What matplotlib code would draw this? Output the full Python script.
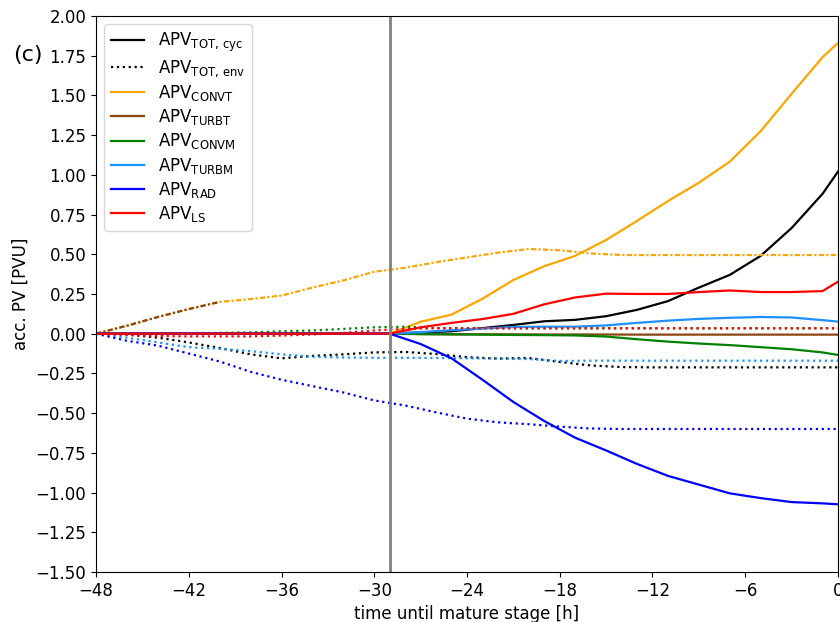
import numpy as np
import matplotlib
matplotlib.use("Agg")
import matplotlib.pyplot as plt

# time axes [h until mature stage]
t_cyc = [-48, -29, -27, -25, -23, -21, -19, -17, -15, -13, -11, -9, -7, -5, -3, -1, 0]
t_env = [-48, -46, -44, -42, -40, -38, -36, -34, -32, -30, -28, -26, -24,
         -22, -20, -18, -16, -14, -12, -10, -8, -6, -4, -2, 0]
t_mature_start = -29

# accumulated PV along cyclone (solid)
tot_cyc = [0, 0, 0.008, 0.015, 0.035, 0.055, 0.078, 0.087, 0.11, 0.15, 0.205, 0.29, 0.37, 0.49, 0.665, 0.88, 1.02]
convt_cyc = [0, 0, 0.075, 0.12, 0.22, 0.338, 0.425, 0.49, 0.59, 0.71, 0.835, 0.95, 1.083, 1.275, 1.51, 1.74, 1.83]
turbt_cyc = [0, 0, -0.002, -0.003, -0.004, -0.004, -0.005, -0.005, -0.005, -0.006, -0.006, -0.006, -0.006, -0.006, -0.006, -0.006, -0.006]
convm_cyc = [0, 0, -0.003, -0.005, -0.006, -0.008, -0.009, -0.011, -0.018, -0.035, -0.05, -0.062, -0.072, -0.085, -0.098, -0.118, -0.134]
turbm_cyc = [0, 0, 0.01, 0.022, 0.032, 0.042, 0.044, 0.044, 0.052, 0.068, 0.082, 0.093, 0.1, 0.105, 0.102, 0.085, 0.076]
rad_cyc = [0, 0, -0.065, -0.155, -0.29, -0.43, -0.55, -0.655, -0.735, -0.82, -0.895, -0.95, -1.005, -1.035, -1.06, -1.068, -1.074]
ls_cyc = [0, 0, 0.04, 0.068, 0.092, 0.125, 0.185, 0.228, 0.252, 0.25, 0.25, 0.262, 0.272, 0.262, 0.262, 0.268, 0.327]

# accumulated PV in environment (dotted)
tot_env = [0, -0.005, -0.025, -0.055, -0.09, -0.13, -0.155, -0.14, -0.13, -0.118, -0.115, -0.128, -0.148,
           -0.157, -0.153, -0.178, -0.2, -0.21, -0.212, -0.212, -0.212, -0.212, -0.212, -0.212, -0.212]
convt_env = [0, 0.05, 0.105, 0.155, 0.2, 0.218, 0.24, 0.29, 0.335, 0.39, 0.415, 0.45, 0.48,
             0.51, 0.533, 0.525, 0.505, 0.495, 0.495, 0.495, 0.495, 0.495, 0.495, 0.495, 0.495]
turbt_env = [0, 0.05, 0.105, 0.155, 0.2] + [np.nan] * 20
convm_env = [0, 0.0, 0.002, 0.003, 0.005, 0.008, 0.015, 0.02, 0.03, 0.04, 0.044, 0.036, 0.034,
             0.034, 0.034, 0.034, 0.034, 0.034, 0.034, 0.034, 0.034, 0.034, 0.034, 0.034, 0.034]
turbm_env = [0, -0.025, -0.055, -0.085, -0.095, -0.11, -0.13, -0.145, -0.15, -0.152, -0.152, -0.153, -0.155,
             -0.156, -0.16, -0.172, -0.17, -0.17, -0.17, -0.17, -0.17, -0.17, -0.17, -0.17, -0.17]
rad_env = [0, -0.045, -0.075, -0.125, -0.175, -0.24, -0.29, -0.33, -0.37, -0.42, -0.452, -0.495, -0.535,
           -0.558, -0.57, -0.585, -0.597, -0.6, -0.6, -0.6, -0.6, -0.6, -0.6, -0.6, -0.6]
ls_env = [0, -0.008, -0.015, -0.017, -0.017, -0.017, -0.012, -0.005, 0.005, 0.02, 0.03, 0.034, 0.034,
          0.034, 0.034, 0.034, 0.034, 0.034, 0.034, 0.034, 0.034, 0.034, 0.034, 0.034, 0.034]

fig = plt.figure(figsize=(8.4, 6.22), dpi=100)
ax = fig.add_axes([0.1143, 0.0804, 0.8833, 0.894])

dashdot = (0, (2.4, 1.0, 1.0, 1.0))

ax.plot(t_cyc, tot_cyc, color='black', lw=1.6, label=r'APV$_\mathrm{TOT,\,cyc}$')
ax.plot(t_env, tot_env, color='black', lw=1.6, ls=':', label=r'APV$_\mathrm{TOT,\,env}$')
ax.plot(t_cyc, convt_cyc, color='orange', lw=1.6, label=r'APV$_\mathrm{CONVT}$')
ax.plot(t_env, convt_env, color='orange', lw=1.6, ls=dashdot)
ax.plot(t_cyc, turbt_cyc, color='#8B4513', lw=1.6, label=r'APV$_\mathrm{TURBT}$')
ax.plot(t_env, turbt_env, color='#8B4513', lw=1.6, ls=dashdot)
ax.plot(t_cyc, convm_cyc, color='green', lw=1.6, label=r'APV$_\mathrm{CONVM}$')
ax.plot(t_env, convm_env, color='green', lw=1.6, ls=':')
ax.plot(t_cyc, turbm_cyc, color='dodgerblue', lw=1.6, label=r'APV$_\mathrm{TURBM}$')
ax.plot(t_env, turbm_env, color='dodgerblue', lw=1.6, ls=':')
ax.plot(t_cyc, rad_cyc, color='blue', lw=1.6, label=r'APV$_\mathrm{RAD}$')
ax.plot(t_env, rad_env, color='blue', lw=1.6, ls=':')
ax.plot(t_cyc, ls_cyc, color='red', lw=1.6, label=r'APV$_\mathrm{LS}$')
ax.plot(t_env, ls_env, color='red', lw=1.6, ls=':')

ax.axvline(t_mature_start, color='grey', lw=2)

ax.set_xlim(-48, 0)
ax.set_ylim(-1.5, 2.0)
ax.set_xticks(np.arange(-48, 1, 6))
ax.set_yticks(np.arange(-1.5, 2.01, 0.25))
ax.tick_params(labelsize=12)
ax.set_xlabel('time until mature stage [h]', fontsize=12)
ax.set_ylabel('acc. PV [PVU]', fontsize=12)
ax.legend(loc='upper left', fontsize=12, labelspacing=0.25, handlelength=2.0)

fig.text(0.0155, 0.9116, '(c)', fontsize=16, va='center', ha='left')

fig.savefig('out.png', dpi=100)
